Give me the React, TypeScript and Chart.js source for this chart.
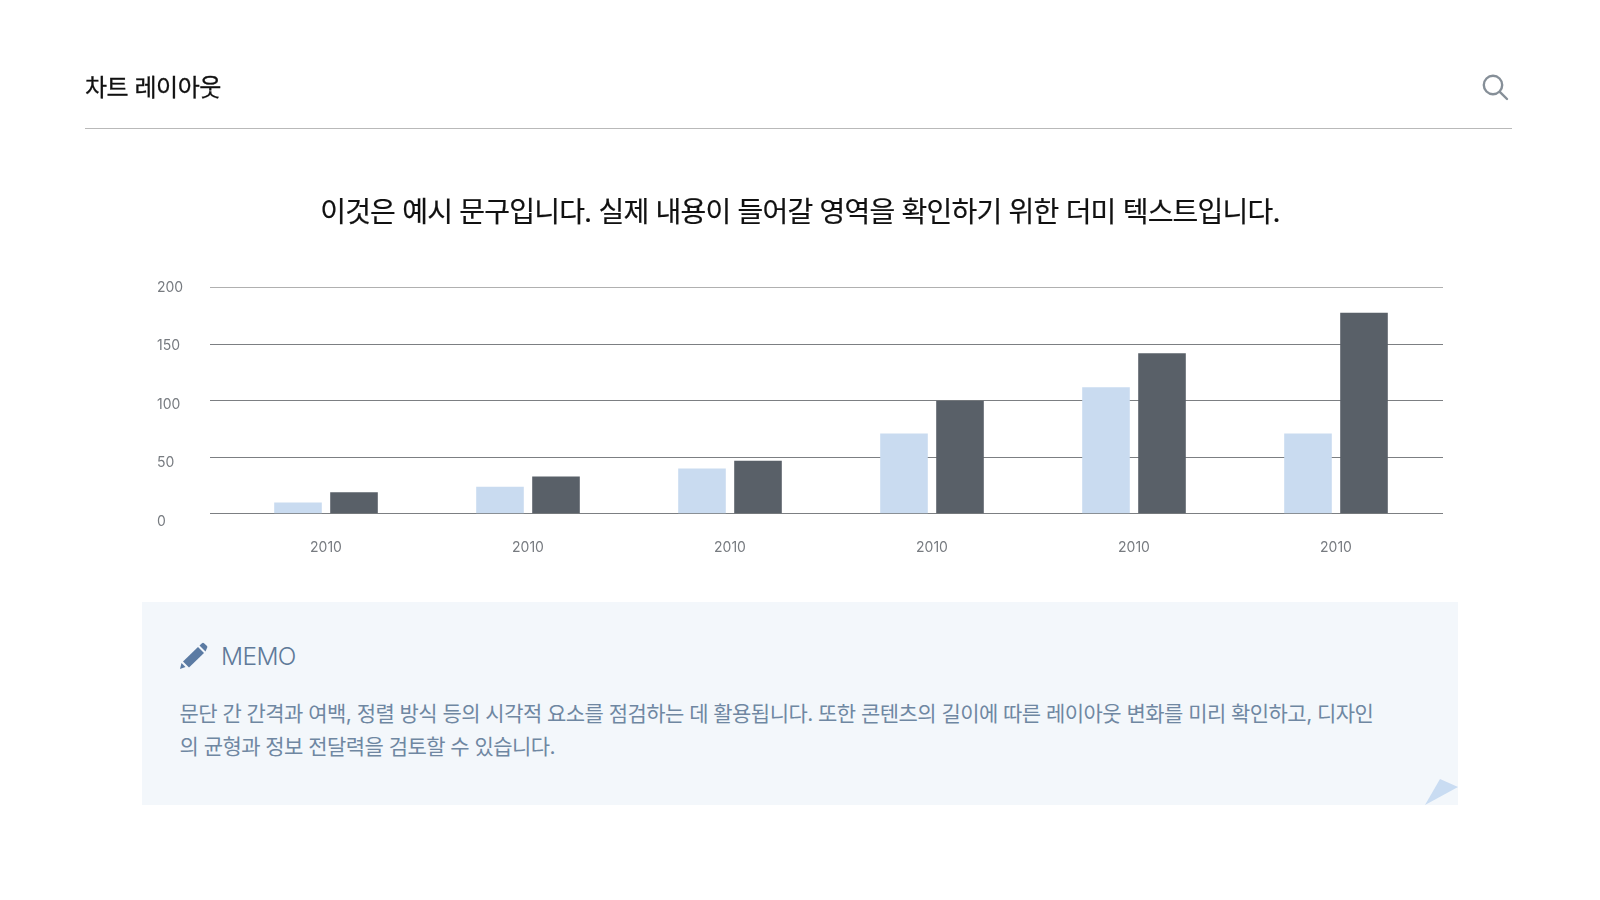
import React, { useEffect, useRef } from 'react';
import { Chart, registerables } from 'chart.js';

Chart.register(...registerables);

const categories = ['2010', '2010', '2010', '2010', '2010', '2010'];
const lightValues = [10, 24, 40, 71, 112, 71];
const darkValues = [19, 33, 47, 100, 142, 178];
const yTicks = [0, 50, 100, 150, 200];

const FONT = 'Inter, "Noto Sans CJK KR", sans-serif';
const LABEL_COLOR = '#777b80';

// y labels sit slightly lower than their gridlines, more so near the bottom; gridlines run past the right edge
const axisExtras = {
  id: 'axisExtras',
  beforeDatasetsDraw(chart: any) {
    const { ctx, chartArea, scales } = chart;
    ctx.save();
    ctx.lineWidth = 1;
    yTicks.forEach((v) => {
      const y = Math.round(scales.y.getPixelForValue(v) - 0.5) + 0.5;
      ctx.strokeStyle = v === 200 ? '#b0b0b0' : '#7c7f82';
      ctx.beginPath();
      ctx.moveTo(chartArea.right, y);
      ctx.lineTo(chartArea.right + 6, y);
      ctx.stroke();
    });
    ctx.restore();
  },
  afterDraw(chart: any) {
    const { ctx, scales } = chart;
    ctx.save();
    ctx.font = '14px ' + FONT;
    ctx.fillStyle = LABEL_COLOR;
    ctx.textAlign = 'left';
    ctx.textBaseline = 'middle';
    yTicks.forEach((v) => {
      const y = scales.y.getPixelForValue(v) - 0.5 + ((200 - v) / 200) * 8;
      ctx.fillText(String(v), 157, y);
    });
    ctx.restore();
  },
};

function BarChart() {
  const canvasRef = useRef<HTMLCanvasElement>(null);

  useEffect(() => {
    if (!canvasRef.current) return;
    const chart = new Chart(canvasRef.current, {
      type: 'bar',
      data: {
        labels: categories,
        datasets: [
          { data: lightValues, backgroundColor: '#c9dbf0', categoryPercentage: 0.5545, barPercentage: 0.85 },
          { data: darkValues, backgroundColor: '#596068', categoryPercentage: 0.5545, barPercentage: 0.85 },
        ],
      },
      options: {
        animation: false,
        responsive: false,
        layout: { padding: { left: 0, right: 163, top: 287.8, bottom: 26.2 } },
        plugins: { legend: { display: false }, tooltip: { enabled: false } },
        scales: {
          x: {
            grid: { display: false },
            border: { display: false },
            ticks: { color: LABEL_COLOR, font: { family: FONT, size: 14 }, padding: 18, maxRotation: 0 },
            afterFit: (s: any) => {
              s.height = 60;
            },
          },
          y: {
            min: 0,
            max: 200,
            border: { display: false },
            grid: {
              color: (c: any) => (c.tick && c.tick.value === 200 ? '#b0b0b0' : '#7c7f82'),
              tickColor: (c: any) => (c.tick && c.tick.value === 200 ? '#b0b0b0' : '#7c7f82'),
              tickLength: 15,
            },
            ticks: { display: false, stepSize: 50 },
            afterFit: (s: any) => {
              s.width = 225;
            },
          },
        },
      },
      plugins: [axisExtras],
    });
    return () => {
      chart.destroy();
    };
  }, []);

  return <canvas ref={canvasRef} width={1600} height={600} style={{ position: 'absolute', left: 0, top: 0 }} />;
}

export default function App() {
  return (
    <div style={{ position: 'absolute', left: 0, top: 0, width: 1600, height: 900, background: '#fff', overflow: 'hidden', fontFamily: FONT }}>
      <BarChart />

      {/* Header */}
      <div style={{ position: 'absolute', left: 85, top: 70, fontSize: 24, lineHeight: '36px', letterSpacing: '-0.02em', color: '#111', WebkitTextStroke: '0.3px #111' }}>
        차트 레이아웃
      </div>
      <svg style={{ position: 'absolute', left: 1480, top: 72 }} width="30" height="30" viewBox="0 0 30 30">
        <circle cx="13" cy="13" r="9.2" fill="none" stroke="#868f98" strokeWidth="2.4" />
        <line x1="19.8" y1="19.8" x2="27" y2="27" stroke="#868f98" strokeWidth="2.4" strokeLinecap="round" />
      </svg>
      <div style={{ position: 'absolute', left: 85, top: 128, width: 1430 - 3, height: 1, background: '#b9b9b9' }} />

      {/* Subtitle */}
      <div style={{ position: 'absolute', left: 0, width: 1600, top: 190, textAlign: 'center', fontSize: 28, lineHeight: '44px', letterSpacing: '-0.028em', color: '#111', WebkitTextStroke: '0.2px #111' }}>
        이것은 예시 문구입니다. 실제 내용이 들어갈 영역을 확인하기 위한 더미 텍스트입니다.
      </div>

      {/* Memo box */}
      <div style={{ position: 'absolute', left: 142, top: 602, width: 1316, height: 203, background: '#f3f7fb' }} />
      <svg style={{ position: 'absolute', left: 178, top: 640 }} width="32" height="32" viewBox="0 0 32 32">
        <path d="M2 29 L3.5 23 L7.5 27 Z" fill="#5b7ba3" />
        <path d="M5 21.5 L20 7 L26 13 L11 27.5 Z" fill="#5b7ba3" />
        <path d="M21.5 5.5 L24 3.2 Q25 2.4 26 3.2 L29 6 Q29.8 7 29 8 L27.5 11.5 Z" fill="#5b7ba3" />
      </svg>
      <div style={{ position: 'absolute', left: 221, top: 638, fontSize: 24.5, lineHeight: '36px', letterSpacing: '-0.025em', fontWeight: 300, color: '#5f7a99' }}>
        MEMO
      </div>
      <div style={{ position: 'absolute', left: 179.5, top: 697, width: 1230, fontSize: 21, lineHeight: '33px', letterSpacing: '-0.026em', fontWeight: 400, color: '#6f87a2' }}>
        문단 간 간격과 여백, 정렬 방식 등의 시각적 요소를 점검하는 데 활용됩니다. 또한 콘텐츠의 길이에 따른 레이아웃 변화를 미리 확인하고, 디자인
        <br />
        의 균형과 정보 전달력을 검토할 수 있습니다.
      </div>
      <svg style={{ position: 'absolute', left: 1417, top: 774 }} width="50" height="40" viewBox="0 0 50 40">
        <polygon points="8,31 23,5 41,13" fill="#c9dcf2" />
      </svg>
    </div>
  );
}
